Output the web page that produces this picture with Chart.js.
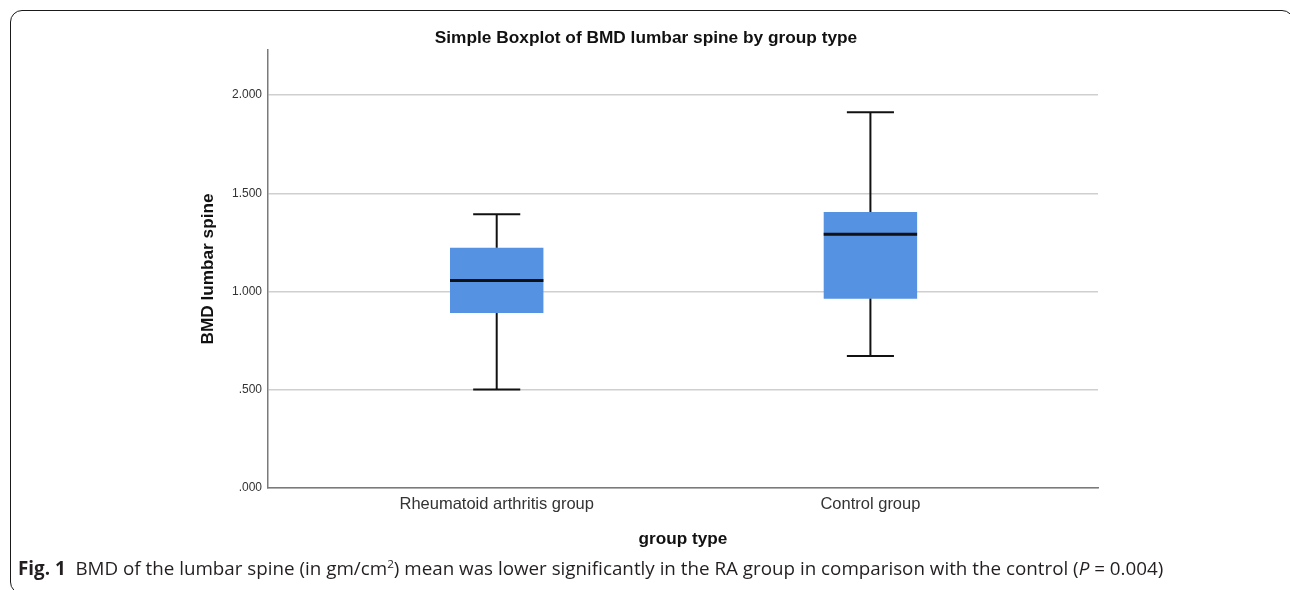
<!DOCTYPE html>
<html>
<head>
<meta charset="utf-8">
<script src="https://cdn.jsdelivr.net/npm/chart.js@4.4.0/dist/chart.umd.min.js"></script>
<style>
html,body{margin:0;padding:0;background:#fff;width:1290px;height:590px;overflow:hidden;}
#frame{position:absolute;left:10px;top:10px;width:1284px;height:584px;box-sizing:border-box;border:1.5px solid #1a1a1a;border-radius:12px;}
#wrap{position:absolute;left:0;top:0;width:1290px;height:590px;}
#caption{position:absolute;left:18px;top:557px;white-space:nowrap;font-family:"Open Sans","Noto Sans",sans-serif;font-size:16px;color:#231f20;line-height:22px;}
#caption sup{font-size:0.62em;line-height:0;vertical-align:0.6em;}
</style>
</head>
<body>
<div id="frame"></div>
<div id="wrap"><canvas id="c"></canvas></div>
<div id="caption"><span id="captext"><b>Fig. 1</b>&nbsp; BMD of the lumbar spine (in gm/cm<sup>2</sup>) mean was lower significantly in the RA group in comparison with the control (<i>P</i> = 0.004)</span></div>
<script>
// ---- data ----
const categories = ['Rheumatoid arthritis group', 'Control group'];
const whiskerLow = [0.502, 0.672];
const quartile1 = [0.891, 0.964];
const medians = [1.056, 1.292];
const quartile3 = [1.223, 1.405];
const whiskerHigh = [1.394, 1.913];
const yTickValues = [0, 0.5, 1, 1.5, 2];
const yTickLabels = ['.000', '.500', '1.000', '1.500', '2.000'];

// ---- styles ----
const FONT = '"Liberation Sans", Arial, sans-serif';
const BOX_HALF = 0.125;   // half box width in x units (matches barPercentage 0.25)
const CAP_HALF = 0.063;   // half whisker-cap width in x units
Chart.defaults.font.family = FONT;

function seg(points, width) {
  return {
    type: 'line', data: points, borderColor: '#111', borderWidth: width,
    pointRadius: 0, tension: 0, fill: false, order: 0, borderCapStyle: 'butt'
  };
}

const datasets = [{
  type: 'bar',
  data: categories.map((c, i) => ({ x: i, y: [quartile1[i], quartile3[i]] })),
  backgroundColor: '#5592e2', borderWidth: 0, borderSkipped: false,
  barPercentage: 0.25, categoryPercentage: 1, order: 10
}];
categories.forEach((c, i) => {
  datasets.push(seg([{ x: i, y: whiskerLow[i] }, { x: i, y: quartile1[i] }], 2));
  datasets.push(seg([{ x: i, y: quartile3[i] }, { x: i, y: whiskerHigh[i] }], 2));
  datasets.push(seg([{ x: i - CAP_HALF, y: whiskerLow[i] }, { x: i + CAP_HALF, y: whiskerLow[i] }], 2));
  datasets.push(seg([{ x: i - CAP_HALF, y: whiskerHigh[i] }, { x: i + CAP_HALF, y: whiskerHigh[i] }], 2));
  datasets.push(seg([{ x: i - BOX_HALF, y: medians[i] }, { x: i + BOX_HALF, y: medians[i] }], 3));
});

new Chart(document.getElementById('c'), {
  type: 'bar',
  data: { datasets },
  options: {
    responsive: true, maintainAspectRatio: false, animation: false,
    devicePixelRatio: 1,
    layout: { padding: { left: 194, right: 192, top: 0, bottom: 36 } },
    plugins: {
      legend: { display: false },
      tooltip: { enabled: false },
      title: {
        display: true, text: 'Simple Boxplot of BMD lumbar spine by group type',
        color: '#111', font: { size: 17.3, weight: 'bold', family: FONT },
        padding: { top: 28, bottom: 1.2 }
      }
    },
    scales: {
      x: {
        type: 'linear', min: -0.612, max: 1.609, offset: false,
        afterBuildTicks: s => { s.ticks = categories.map((c, i) => ({ value: i })); },
        afterFit: s => { s.height = 66; },
        ticks: {
          callback: v => categories[v], color: '#333', padding: 7,
          font: { size: 16.5, family: FONT }, maxRotation: 0, autoSkip: false
        },
        grid: { display: false, drawTicks: false, offset: false },
        border: { display: true, color: '#7a7a7a', width: 1.5 },
        title: {
          display: true, text: 'group type', color: '#111',
          font: { size: 17.2, weight: 'bold', family: FONT }, padding: { top: 4, bottom: 4 }
        }
      },
      y: {
        min: 0, max: 2.23,
        afterBuildTicks: s => { s.ticks = yTickValues.map(v => ({ value: v })); },
        afterFit: s => { s.width = 74; },
        ticks: {
          callback: v => yTickLabels[yTickValues.indexOf(v)], color: '#333', padding: 6,
          font: { size: 12, family: FONT }
        },
        grid: { color: '#cfcfcf', lineWidth: 1.5, drawTicks: false },
        border: { display: true, color: '#7a7a7a', width: 1.5 },
        title: {
          display: true, text: 'BMD lumbar spine', color: '#111',
          font: { size: 17.2, weight: 'bold', family: FONT }, padding: { top: 4, bottom: 4 }
        }
      }
    }
  }
});

// fit caption width to reference span
const cap = document.getElementById('captext');
const w = cap.getBoundingClientRect().width;
if (w > 0) document.getElementById('caption').style.fontSize = (16 * 1146 / w).toFixed(2) + 'px';
</script>
</body>
</html>
